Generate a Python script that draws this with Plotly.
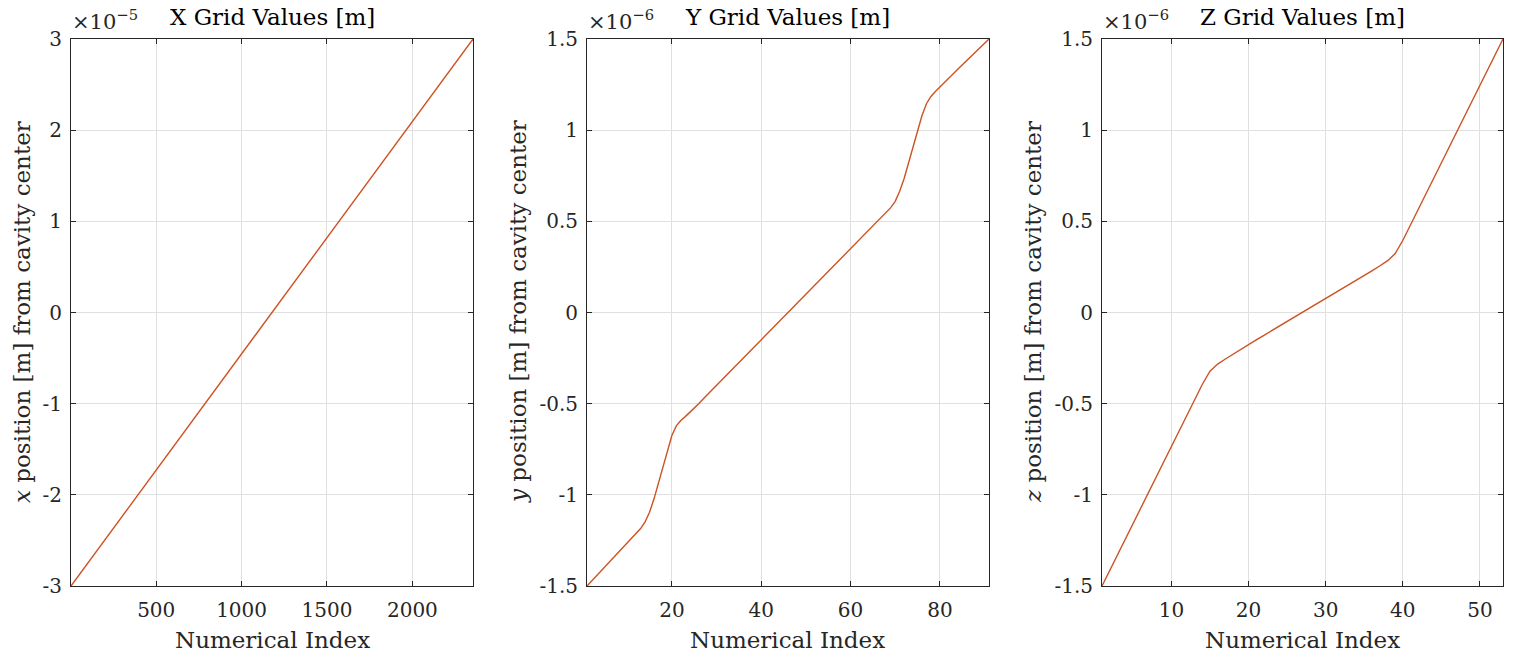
import plotly.graph_objects as go

# ---------------- data ----------------
# X grid: uniform, values in units of 1e-5 m
x_index = [1, 2355]
x_values = [-3.0, 3.0]

# Y grid: values in units of 1e-6 m, index 1..91
y_index = list(range(1, 92))
y_values = [
    -1.500, -1.474, -1.448, -1.422, -1.396, -1.370, -1.344, -1.318, -1.292, -1.266,
    -1.240, -1.214, -1.185, -1.148, -1.096, -1.022, -0.935, -0.845, -0.755, -0.675,
    -0.622, -0.592, -0.571, -0.549, -0.525, -0.500, -0.475, -0.450, -0.425, -0.400,
    -0.375, -0.350, -0.325, -0.300, -0.275, -0.250, -0.225, -0.200, -0.175, -0.150,
    -0.125, -0.100, -0.075, -0.050, -0.025, 0.000, 0.025, 0.050, 0.075, 0.100,
    0.125, 0.150, 0.175, 0.200, 0.225, 0.250, 0.275, 0.300, 0.325, 0.350,
    0.375, 0.400, 0.425, 0.450, 0.475, 0.500, 0.525, 0.549, 0.575, 0.610,
    0.665, 0.735, 0.825, 0.912, 1.000, 1.080, 1.145, 1.185, 1.212, 1.238,
    1.262, 1.286, 1.310, 1.334, 1.358, 1.382, 1.406, 1.430, 1.454, 1.477,
    1.500,
]

# Z grid: values in units of 1e-6 m, index 1..53
z_index = list(range(1, 54))
z_values = [
    -1.500, -1.415, -1.330, -1.245, -1.160, -1.075, -0.990, -0.905, -0.820, -0.735,
    -0.650, -0.565, -0.480, -0.395, -0.322, -0.283, -0.255, -0.228, -0.200, -0.175,
    -0.150, -0.125, -0.100, -0.075, -0.050, -0.025, 0.000, 0.025, 0.050, 0.075,
    0.100, 0.125, 0.150, 0.175, 0.200, 0.228, 0.255, 0.283, 0.322, 0.395,
    0.480, 0.565, 0.650, 0.735, 0.820, 0.905, 0.990, 1.075, 1.160, 1.245,
    1.330, 1.415, 1.500,
]

titles = ["X Grid Values [m]", "Y Grid Values [m]", "Z Grid Values [m]"]
exponents = ["×10<sup>−5</sup>", "×10<sup>−6</sup>", "×10<sup>−6</sup>"]
ylabels = ["<i>x</i> position [m] from cavity center",
           "<i>y</i> position [m] from cavity center",
           "<i>z</i> position [m] from cavity center"]
xlabel = "Numerical Index"

x_ticks = [[500, 1000, 1500, 2000], [20, 40, 60, 80], [10, 20, 30, 40, 50]]
y_ticks_x = [-3, -2, -1, 0, 1, 2, 3]
y_ticks_yz = [-1.5, -1, -0.5, 0, 0.5, 1, 1.5]
y_tick_text_x = ["-3", "-2", "-1", "0", "1", "2", "3"]
y_tick_text_yz = ["-1.5", "-1", "-0.5", "0", "0.5", "1", "1.5"]

# ---------------- layout geometry ----------------
W, H = 1522, 660
px_domains = [(71, 473), (587, 989), (1102, 1503)]
top_px, bot_px = 39, 586
ydom = [1 - bot_px / H, 1 - top_px / H]

FONT = "DejaVu Serif"
LINE_COLOR = "#CD5222"
AX_COLOR = "#262626"
GRID_COLOR = "#e0e0e0"

fig = go.Figure()

series = [(x_index, x_values), (y_index, y_values), (z_index, z_values)]
xranges = [[1, 2355], [1, 91], [1, 53]]
yranges = [[-3, 3], [-1.5, 1.5], [-1.5, 1.5]]

annotations = []
for k in range(3):
    xi, yv = series[k]
    xa = "x" if k == 0 else f"x{k+1}"
    ya = "y" if k == 0 else f"y{k+1}"
    fig.add_trace(go.Scatter(x=xi, y=yv, mode="lines", xaxis=xa, yaxis=ya,
                             line=dict(color=LINE_COLOR, width=1.4),
                             showlegend=False, hoverinfo="skip"))
    d0, d1 = px_domains[k]
    common = dict(showline=True, linecolor=AX_COLOR, linewidth=1, mirror="ticks",
                  ticks="inside", ticklen=5, tickwidth=1, tickcolor=AX_COLOR,
                  showgrid=True, gridcolor=GRID_COLOR, gridwidth=1, zeroline=False,
                  automargin=False,
                  tickfont=dict(family=FONT, size=20, color="#262626"))
    xkey = "xaxis" if k == 0 else f"xaxis{k+1}"
    ykey = "yaxis" if k == 0 else f"yaxis{k+1}"
    fig.update_layout(**{
        xkey: dict(domain=[d0 / W, d1 / W], anchor=ya, range=xranges[k],
                   tickmode="array", tickvals=x_ticks[k],
                   ticktext=[str(t) for t in x_ticks[k]], ticklabelstandoff=6, **common),
        ykey: dict(domain=ydom, anchor=xa, range=yranges[k],
                   tickmode="array",
                   tickvals=y_ticks_x if k == 0 else y_ticks_yz,
                   ticktext=y_tick_text_x if k == 0 else y_tick_text_yz,
                   ticklabelstandoff=4,
                   **common),
    })
    cx = (d0 + d1) / 2 / W
    # title
    annotations.append(dict(text=titles[k], x=cx, y=1 - 32 / H, xref="paper", yref="paper",
                            xanchor="center", yanchor="bottom", showarrow=False,
                            font=dict(family=FONT, size=23, color="#000000")))
    # exponent
    annotations.append(dict(text=exponents[k], x=(d0 - 1) / W, y=1 - 36 / H, xref="paper",
                            yref="paper", xanchor="left", yanchor="bottom", showarrow=False,
                            font=dict(family=FONT, size=21, color="#262626")))
    # x axis label
    annotations.append(dict(text=xlabel, x=cx, y=1 - 640 / H, xref="paper", yref="paper",
                            xanchor="center", yanchor="middle", showarrow=False,
                            font=dict(family=FONT, size=23, color="#262626")))
    # y axis label
    ylx = [22, 518, 1033][k]
    annotations.append(dict(text=ylabels[k], x=ylx / W, y=1 - 312 / H, xref="paper",
                            yref="paper", xanchor="center", yanchor="middle", textangle=-90,
                            showarrow=False,
                            font=dict(family=FONT, size=23, color="#262626")))

fig.update_layout(width=W, height=H, margin=dict(l=0, r=0, t=0, b=0),
                  paper_bgcolor="white", plot_bgcolor="white",
                  annotations=annotations)

fig.write_html("out.html")
